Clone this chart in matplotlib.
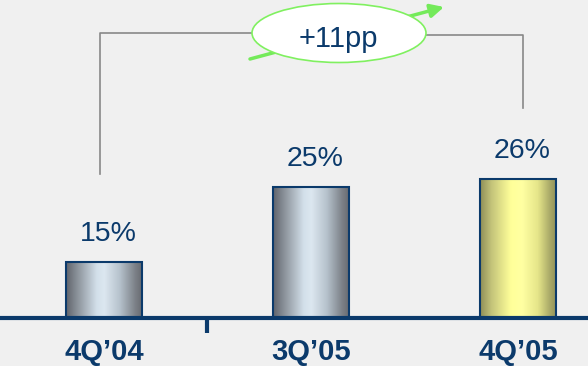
import numpy as np
import matplotlib.pyplot as plt
from matplotlib.colors import LinearSegmentedColormap
from matplotlib.patches import Ellipse

plt.rcParams['font.family'] = ['Liberation Sans', 'DejaVu Sans']

# Quarterly share, in percent
quarters = ['4Q\u201904', '3Q\u201905', '4Q\u201905']
share = [15, 25, 26]
change_label = '+11pp'

NAVY = '#0B3A6B'
BG = '#F0F0F0'

# Cylinder-like shading across each bar
silver = LinearSegmentedColormap.from_list('silver', [
    (0.0, '#60646C'), (0.15, '#8C939B'), (0.4, '#D3E0EA'), (0.5, '#DCE7F0'),
    (0.7, '#B6C2CC'), (0.9, '#7C8188'), (1.0, '#65686E')])
gold = LinearSegmentedColormap.from_list('gold', [
    (0.0, '#8E8E58'), (0.15, '#C4C47A'), (0.4, '#FFFF99'), (0.55, '#FFFFA2'),
    (0.75, '#E6E68A'), (0.92, '#A6A666'), (1.0, '#909058')])
bar_cmaps = [silver, silver, gold]

base = 7.64      # value that sits on the axis line
px_per_pt = 7.57  # vertical pixels per percentage point

fig = plt.figure(figsize=(5.88, 3.66), dpi=100, facecolor=BG)
ax = fig.add_axes([0, 0, 1, 1])
ax.set_facecolor(BG)

x = np.arange(len(quarters))
bars = ax.bar(x, np.array(share) - base, bottom=base, width=0.37,
              facecolor='none', edgecolor=NAVY, linewidth=1.5, zorder=3)

grad = np.linspace(0, 1, 256)[None, :]
for bar, cmap in zip(bars, bar_cmaps):
    x0, y0 = bar.get_xy()
    im = ax.imshow(grad, cmap=cmap, aspect='auto', zorder=2,
                   extent=[x0, x0 + bar.get_width(), y0, y0 + bar.get_height()])
    im.set_clip_path(bar)

for xi, v in zip(x, share):
    ax.annotate(f'{v}%', xy=(xi, v), xytext=(4, 21), textcoords='offset pixels',
                ha='center', va='baseline', fontsize=20.5, color=NAVY)

for xi, q in zip(x, quarters):
    ax.annotate(q, xy=(xi, base), xytext=(0, -42), textcoords='offset pixels',
                ha='center', va='baseline', fontsize=21, fontweight='bold',
                color=NAVY)

ax.axhline(base, color=NAVY, lw=3, zorder=4)
ax.plot([0.5, 0.5], [base, base - 15 / px_per_pt], color=NAVY, lw=3,
        solid_capstyle='butt', zorder=4)

ax.set_xlim(-0.502, 2.338)
ax.set_ylim(base - 48 / px_per_pt, base + 318 / px_per_pt)
ax.axis('off')

# Growth callout drawn in pixel space on top
ov = fig.add_axes([0, 0, 1, 1])
ov.set_xlim(0, 588)
ov.set_ylim(366, 0)
ov.axis('off')
ov.patch.set_alpha(0)

ov.plot([100, 100, 252], [174, 33, 33], color='#888888', lw=1.2, zorder=1)
ov.plot([424, 523, 523], [35, 35, 108], color='#888888', lw=1.2, zorder=1)
ov.annotate('', xy=(444, 7), xytext=(250, 59),
            arrowprops=dict(arrowstyle='-|>', color='#74EA5A', lw=2.5,
                            mutation_scale=20, shrinkA=0, shrinkB=0), zorder=2)
ov.add_patch(Ellipse((339, 33), 174, 59, facecolor='white',
                     edgecolor='#80F060', lw=1.2, zorder=3))
ov.text(338, 47, change_label, ha='center', va='baseline', fontsize=21,
        color=NAVY, zorder=4)

fig.savefig('out.png', dpi=100, facecolor=BG)
